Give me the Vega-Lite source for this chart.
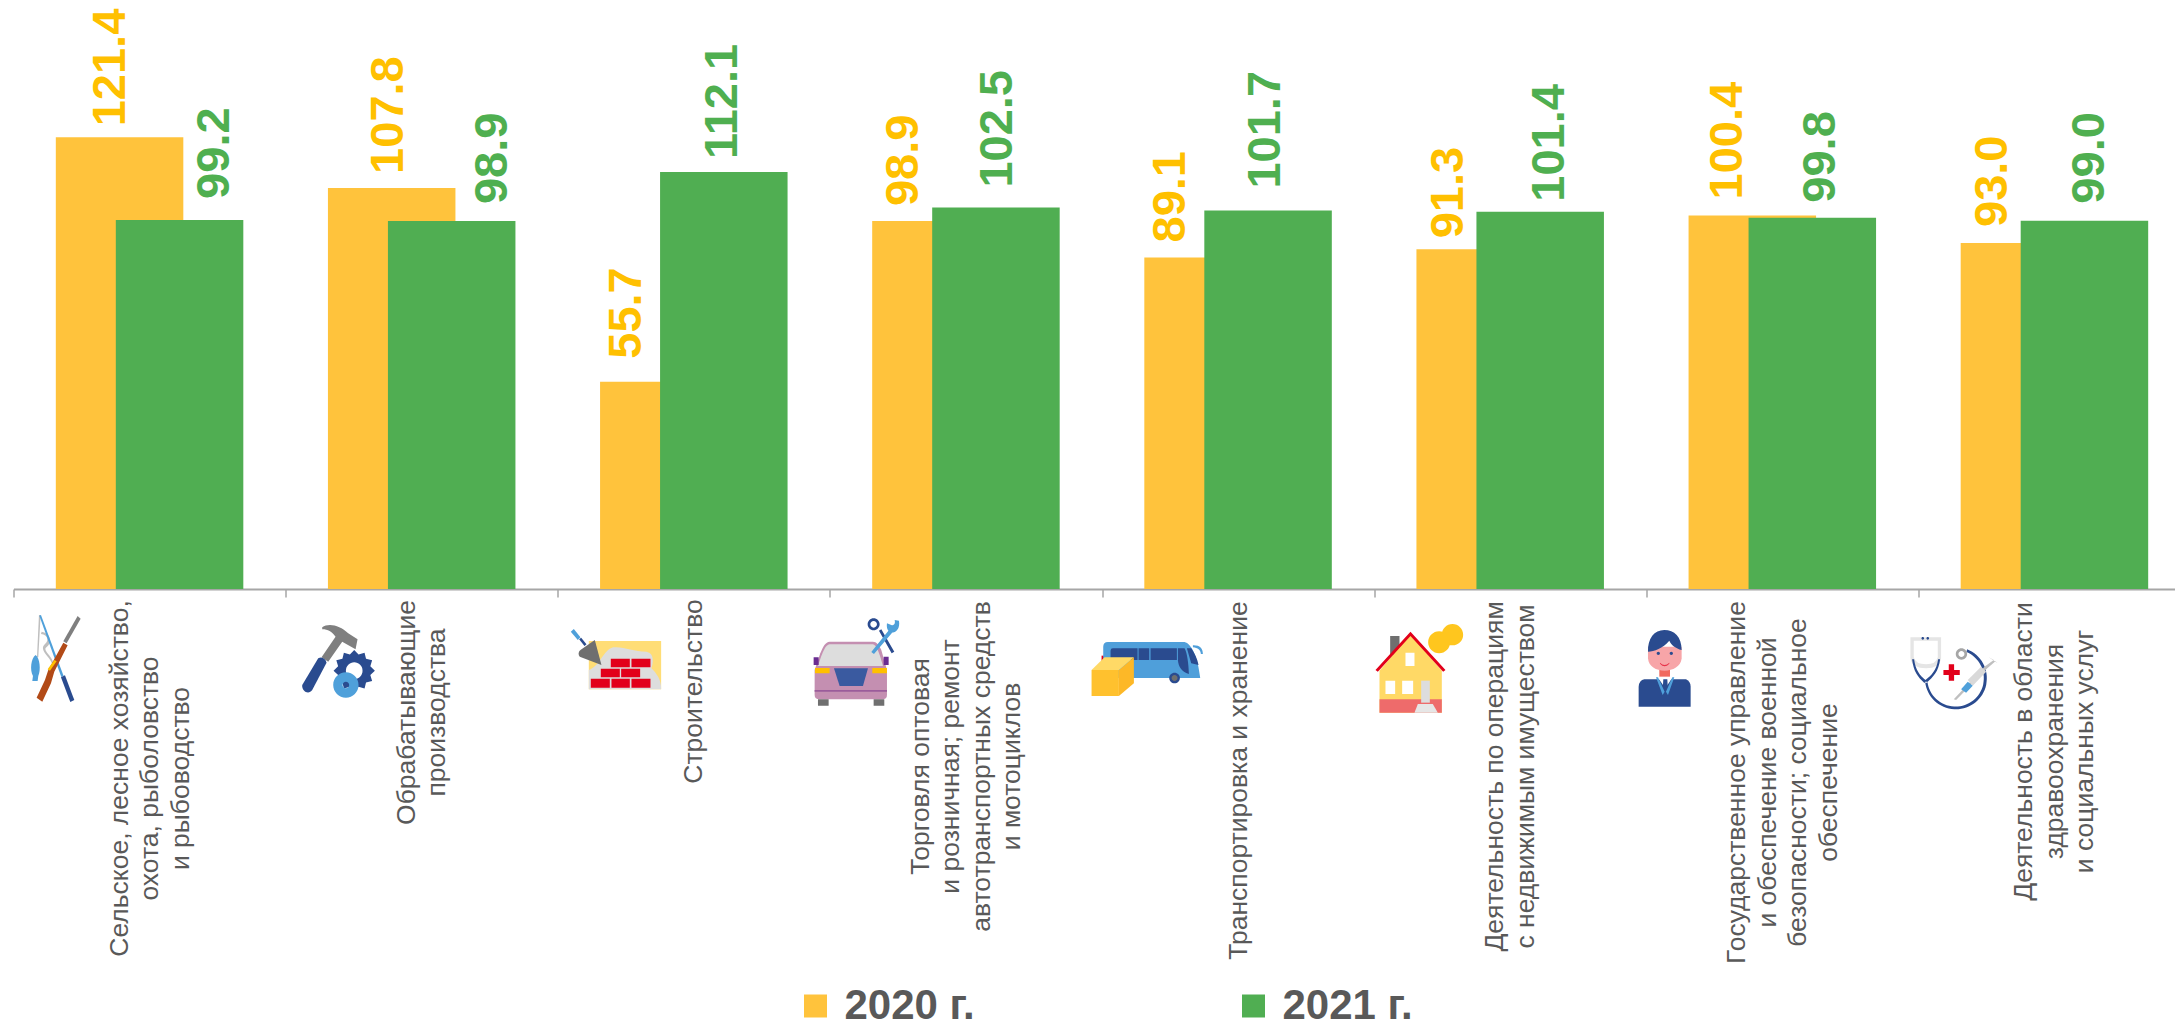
{
"$schema":"https://vega.github.io/schema/vega-lite/v6.json",
"width":2161.5,"height":589,
"autosize":{"type":"none"},
"padding":{"left":13.5,"top":0,"right":0,"bottom":431},
"background":"white",
"config":{"view":{"stroke":null},"font":"Liberation Sans"},
"datasets":{
"table":[
{"n":0,"category":"Сельское, лесное хозяйство,\nохота, рыболовство\nи рыбоводство","year":"2020 г.","value":121.4},
{"n":0,"category":"Сельское, лесное хозяйство,\nохота, рыболовство\nи рыбоводство","year":"2021 г.","value":99.2},
{"n":1,"category":"Обрабатывающие\nпроизводства","year":"2020 г.","value":107.8},
{"n":1,"category":"Обрабатывающие\nпроизводства","year":"2021 г.","value":98.9},
{"n":2,"category":"Строительство","year":"2020 г.","value":55.7},
{"n":2,"category":"Строительство","year":"2021 г.","value":112.1},
{"n":3,"category":"Торговля оптовая\nи розничная; ремонт\nавтотранспортных средств\nи мотоциклов","year":"2020 г.","value":98.9},
{"n":3,"category":"Торговля оптовая\nи розничная; ремонт\nавтотранспортных средств\nи мотоциклов","year":"2021 г.","value":102.5},
{"n":4,"category":"Транспортировка и хранение","year":"2020 г.","value":89.1},
{"n":4,"category":"Транспортировка и хранение","year":"2021 г.","value":101.7},
{"n":5,"category":"Деятельность по операциям\nс недвижимым имуществом","year":"2020 г.","value":91.3},
{"n":5,"category":"Деятельность по операциям\nс недвижимым имуществом","year":"2021 г.","value":101.4},
{"n":6,"category":"Государственное управление\nи обеспечение военной\nбезопасности; социальное\nобеспечение","year":"2020 г.","value":100.4},
{"n":6,"category":"Государственное управление\nи обеспечение военной\nбезопасности; социальное\nобеспечение","year":"2021 г.","value":99.8},
{"n":7,"category":"Деятельность в области\nздравоохранения\nи социальных услуг","year":"2020 г.","value":93.0},
{"n":7,"category":"Деятельность в области\nздравоохранения\nи социальных услуг","year":"2021 г.","value":99.0}
],
"icons":[
{"n":0,"part":"line0"},{"n":0,"part":"rod0"},{"n":0,"part":"reel0"},{"n":0,"part":"fish0"},{"n":0,"part":"barrel0"},{"n":0,"part":"stock0"},{"n":0,"part":"stripe0"},
{"n":1,"part":"head1"},{"n":1,"part":"grip1"},{"n":1,"part":"gear1"},{"n":1,"part":"hole1"},{"n":1,"part":"small1"},
{"n":2,"part":"wall2"},{"n":2,"part":"plaster2"},{"n":2,"part":"bricks2"},{"n":2,"part":"trowel2"},{"n":2,"part":"handle2"},{"n":2,"part":"stem2"},
{"n":3,"part":"body3"},{"n":3,"part":"glass3"},{"n":3,"part":"grille3"},{"n":3,"part":"lights3"},{"n":3,"part":"stripe3"},{"n":3,"part":"mirrors3"},{"n":3,"part":"tires3"},{"n":3,"part":"scissors3"},{"n":3,"part":"wrench3"},
{"n":4,"part":"tail4"},{"n":4,"part":"bus4"},{"n":4,"part":"windows4"},{"n":4,"part":"wheel4"},{"n":4,"part":"hub4"},{"n":4,"part":"boxfront4"},{"n":4,"part":"boxside4"},{"n":4,"part":"boxtop4"},
{"n":5,"part":"chimney5"},{"n":5,"part":"wall5"},{"n":5,"part":"base5"},{"n":5,"part":"roof5"},{"n":5,"part":"door5"},{"n":5,"part":"steps5"},{"n":5,"part":"windows5"},{"n":5,"part":"coins5"},
{"n":6,"part":"suit6"},{"n":6,"part":"shirt6"},{"n":6,"part":"neck6"},{"n":6,"part":"face6"},{"n":6,"part":"hair6"},{"n":6,"part":"lapels6"},{"n":6,"part":"mouth6"},
{"n":7,"part":"band7"},{"n":7,"part":"tube7"},{"n":7,"part":"knob7"},{"n":7,"part":"knobin7"},{"n":7,"part":"cross7"},{"n":7,"part":"needle7"},{"n":7,"part":"barrel7"},{"n":7,"part":"dose7"}
]},
"data":{"name":"table"},
"encoding":{
"x":{"field":"category","type":"nominal","sort":null,"title":null,
 "scale":{"domain":["Сельское, лесное хозяйство,\nохота, рыболовство\nи рыбоводство","Обрабатывающие\nпроизводства","Строительство","Торговля оптовая\nи розничная; ремонт\nавтотранспортных средств\nи мотоциклов","Транспортировка и хранение","Деятельность по операциям\nс недвижимым имуществом","Государственное управление\nи обеспечение военной\nбезопасности; социальное\nобеспечение","Деятельность в области\nздравоохранения\nи социальных услуг"],"range":[0,2177],"paddingInner":0,"paddingOuter":0},
 "axis":{"title":null,"labelAngle":-90,"labelAlign":"center","labelBaseline":"middle","labelPadding":0,"tickSize":8,"tickBand":"extent","domainColor":"#A6A6A6","domainWidth":2,"tickColor":"#A6A6A6","tickWidth":1.5,"labelColor":"#595959","labelFontSize":26.5,"labelLimit":0,"labelFont":"Liberation Sans",
  "labelExpr":"datum.value?split(datum.value,'\\n'):''",
  "labelOverlap":false,"labelBound":false,"labelFlush":false,
  "encoding":{"labels":{"lineHeight":{"value":30.5},
   "dy":{"value":{"expr":"datum.value?-(length(split(datum.value,'\\n'))-1)*15.25:0"}},
   "y":{"value":{"expr":"datum.value?{'Сельское, лесн':189,'Обрабатывающие':123,'Строительство':102,'Торговля оптов':177,'Транспортировк':191,'Деятельность п':187,'Государственно':193,'Деятельность в':162}[slice(datum.value,0,14)]:0"}}}}}},
"y":{"field":"value","type":"quantitative","stack":null,"scale":{"domain":[0,158.3],"nice":false,"zero":true},"axis":null}
},
"layer":[
{"mark":{"type":"bar","width":127.5,"xOffset":{"expr":"datum.year=='2020 г.'?-30:30"}},
 "encoding":{
  "fill":{"field":"year","type":"nominal","scale":{"domain":["2020 г.","2021 г."],"range":["#FFC33C","#50AE52"]},
   "legend":{"orient":"none","legendX":781,"legendY":985,"direction":"horizontal","title":null,"symbolType":"square","symbolSize":529,"labelFontSize":42,"labelFontWeight":"bold","labelColor":"#595959","labelOffset":8,"columnPadding":257,"labelLimit":0}}}},
{"mark":{"type":"text","angle":270,"align":"left","baseline":"middle","fontWeight":"bold","fontSize":47,
  "dx":{"expr":"datum.year=='2020 г.'?[11,14,23,15,15,11,16,16][datum.n]:[21,17,13,20,22,10,15,17][datum.n]"},
  "xOffset":{"expr":"datum.year=='2020 г.'?[-39,-33,-67,-62,-67,-61,-54,-61][datum.n]:[65,71,29,32,28,40,39,36][datum.n]"}},
 "encoding":{"text":{"field":"value","type":"quantitative","format":".1f"},
  "color":{"field":"year","type":"nominal","scale":{"domain":["2020 г.","2021 г."],"range":["#FFC000","#4FAF50"]},"legend":null}}},
{"data":{"name":"icons"},
 "transform":[{"lookup":"n","from":{"data":{"name":"table"},"key":"n","fields":["category"]}}],
 "mark":{"type":"point","filled":true,"opacity":1,"size":0.4444,"strokeWidth":0,
  "xOffset":{"expr":"[-134.6,-136.8,-134,-166.3,-153.5,-145.7,-163,-155][datum.n]"},
  "yOffset":{"expr":"[600,600,600,600,620,610,620,620][datum.n]"}},
 "encoding":{
  "y":{"value":0},
  "shape":{"field":"part","type":"nominal","legend":null,"scale":{
   "domain":["line0","rod0","reel0","fish0","barrel0","stock0","stripe0","head1","grip1","gear1","hole1","small1","wall2","plaster2","bricks2","trowel2","handle2","stem2","body3","glass3","grille3","lights3","stripe3","mirrors3","tires3","scissors3","wrench3","tail4","bus4","windows4","wheel4","hub4","boxfront4","boxside4","boxtop4","chimney5","wall5","base5","roof5","door5","steps5","windows5","coins5","suit6","shirt6","neck6","face6","hair6","lapels6","mouth6","band7","tube7","knob7","knobin7","cross7","needle7","barrel7","dose7"],
   "range":[
   "M72 45L77 45L70 172L66 172ZM80 95C110 100 110 130 96 140C80 150 110 165 116 190L112 192C105 170 70 150 90 132C102 122 100 105 78 102Z",
   "M73 47L78 45L146 228L139 231Z",
   "M138 232L150 226L178 300L166 306Z",
   "M62 165C75 175 78 210 70 228L68 243L52 243L54 228C44 210 48 175 62 165Z",
   "M188 48L197 56L155 130L145 124Z",
   "M145 128L158 136L118 215L108 250L82 305L65 293L90 240L100 210Z",
   "M118 180L125 184L105 212L98 208Z",
   "M112 82C130 68 165 75 190 100L218 118L212 148L180 130L172 125L130 185L110 172L152 110C140 95 130 88 112 88Z",
   "M100 175C110 168 122 175 125 188L82 270C72 285 50 275 52 255Z",
   "M270 212L256.3 224.9L261.7 243L243.4 247.4L239 265.7L221 260.3L208 274L195 260.3L177 265.7L172.6 247.4L154.3 243L159.7 224.9L146 212L159.7 199.1L154.3 181L172.6 176.6L177 158.3L195 163.7L208 150L221 163.7L239 158.3L243.4 176.6L261.7 181L256.3 199.1Z",
   "M233 212A25 25 0 1 0 183 212A25 25 0 1 0 233 212Z",
   "M221 255A38 38 0 1 0 145 255A38 38 0 1 0 221 255ZM193 255A10 10 0 1 1 173 255A10 10 0 1 1 193 255Z",
   "M87 123H304V268H87Z",
   "M87 268L87 210C120 200 130 150 160 142C190 138 220 155 260 155C285 160 280 190 275 205C290 220 305 240 304 268Z",
   "M153 176H210V202H153ZM215 176H272V202H215ZM123 206H180V232H123ZM184 206H241V232H184ZM93 236H150V263H93ZM155 236H210V263H155ZM215 236H272V263H215Z",
   "M105 120L125 195L60 170C55 165 55 155 62 150Z",
   "M33 95L42 87L62 112L54 120Z",
   "M58 118L64 113L80 133L74 138Z",
   "M90 125H220C230 125 238 135 245 150L262 210V285Q262 298 248 298H60Q45 298 45 285V210L62 160C70 140 78 125 90 125Z",
   "M92 133H218C228 133 235 145 250 198H55C72 145 80 133 92 133Z",
   "M103 205H205L190 258H120Z",
   "M46 204H90V220H46ZM218 204H262V220H218Z",
   "M45 270H262V275H45Z",
   "M42 172H57V195H42ZM252 170H267V195H252Z",
   "M55 298H87V317H55ZM222 298H254V317H222Z",
   "M238 92L245 88L284 155L276 160ZM240 73A18 18 0 1 0 204 73A18 18 0 1 0 240 73ZM232 73A10 10 0 1 1 212 73A10 10 0 1 1 232 73Z",
   "M270 88L280 95L223 162L215 156ZM262 70L275 75C283 78 288 70 285 60L298 62C302 85 290 98 275 98C265 95 260 85 262 70Z",
   "M51 107H58V125H51Z",
   "M70 66H300C320 70 340 110 347 174H70Q56 174 56 160V80Q56 66 70 66ZM325 76C345 75 355 85 355 102L349 102C348 90 340 84 325 82Z",
   "M85 85H159V120H78V92Q78 85 85 85ZM162 85H194V120H162ZM198 85H277V120H198ZM280 85H300C308 100 312 130 313 162C290 155 282 140 280 120ZM307 85H320C330 100 338 115 342 135L320 130Z",
   "M286 174A16 16 0 1 0 254 174A16 16 0 1 0 286 174Z",
   "M279 174A9 9 0 1 0 261 174A9 9 0 1 0 279 174Z",
   "M21 150H103V228H21Z",
   "M103 150L148 112V190L103 228Z",
   "M21 150L60 112H148L103 150Z",
   "M77 78H105V135H77Z",
   "M45 182L138 72L232 182V308H45Z",
   "M45 268H232V308H45Z",
   "M33 180L138 65L243 180L236 185L138 78L40 185Z",
   "M170 212H196V278H170Z",
   "M160 282H205L220 308H150Z",
   "M123 128H150V168H123ZM63 212H92V252H63ZM113 212H146V252H113Z",
   "M296 74A32 32 0 1 0 232 74A32 32 0 1 0 296 74ZM257 97A33 33 0 1 0 191 97A33 33 0 1 0 257 97Z",
   "M75 178H200Q214 185 214 200V260H58V200Q60 180 75 178Z",
   "M115 172H160L138 205Z",
   "M120 150H152V170H120Z",
   "M86 80H187V115C185 140 160 152 136 152C110 152 88 140 86 115Z",
   "M135 30C165 30 187 50 187 90C170 85 155 75 150 62C130 85 105 95 86 95C85 55 105 30 135 30ZM122 100A5 5 0 1 0 112 100A5 5 0 1 0 122 100ZM161 100A5 5 0 1 0 151 100A5 5 0 1 0 161 100ZM132 178H144L146 212H130Z",
   "M110 172L116 172L136 215L130 225ZM165 172L159 172L140 215L146 225Z",
   "M122 128Q136 142 150 128L150 131Q136 146 122 131Z",
   "M33 52H125V115Q120 145 80 145Q38 145 33 115ZM43 62V112Q48 133 80 133Q110 133 115 112V62Z",
   "M38 118L44 118C48 150 62 168 78 180C95 168 112 150 116 118L122 118C118 155 100 172 82 188L74 188C56 172 42 155 38 118ZM77 185A93 93 0 1 0 203 88L201 96A85 85 0 1 1 84 185ZM74 55A4 4 0 1 0 66 55A4 4 0 1 0 74 55ZM89 55A4 4 0 1 0 81 55A4 4 0 1 0 89 55Z",
   "M203 102A17 17 0 1 0 169 102A17 17 0 1 0 203 102Z",
   "M195 102A9 9 0 1 0 177 102A9 9 0 1 0 195 102Z",
   "M148 133H164V150H181V165H164V182H148V165H132V150H148Z",
   "M163 238L255 140L283 120L268 112L295 130L288 124L262 146L170 240Z",
   "M205 180L245 140L260 155L220 197Z",
   "M185 208L205 185L220 197L200 218Z"
   ]}},
  "color":{"field":"part","type":"nominal","legend":null,"scale":{
   "domain":["line0","rod0","reel0","fish0","barrel0","stock0","stripe0","head1","grip1","gear1","hole1","small1","wall2","plaster2","bricks2","trowel2","handle2","stem2","body3","glass3","grille3","lights3","stripe3","mirrors3","tires3","scissors3","wrench3","tail4","bus4","windows4","wheel4","hub4","boxfront4","boxside4","boxtop4","chimney5","wall5","base5","roof5","door5","steps5","windows5","coins5","suit6","shirt6","neck6","face6","hair6","lapels6","mouth6","band7","tube7","knob7","knobin7","cross7","needle7","barrel7","dose7"],
   "range":["#BFBFBF","#4FA0DA","#2A4B8F","#4FA0DA","#7F7F7F","#B24A17","#FFC000","#7F7F7F","#2A4B8F","#2A4B8F","#FFFFFF","#4FA0DA","#FFDD76","#DDDDDD","#E2001A","#6F6F6F","#4FA0DA","#2A4B8F","#C48FB1","#DDDDDD","#3A5AA0","#FFC000","#9B5C9B","#6A2C91","#6F6F6F","#2A4B8F","#4FA0DA","#E2001A","#4F9FDA","#2A4B8F","#2A4B8F","#6F6F6F","#FFC12E","#FDB827","#FFD966","#6F6F6F","#FFD966","#EE6B6B","#E2001A","#DDDDDD","#E6E6E6","#FFFFFF","#FFC61E","#2A4B8F","#FFFFFF","#F16A5F","#F7A5A8","#2A4B8F","#4F9FDA","#E8334A","#E5E5E5","#2A4B8F","#A6A6A6","#FFFFFF","#E2001A","#BFBFBF","#D9D9D9","#4FA0DA"]}}
 }}
],
"resolve":{"scale":{"color":"independent","fill":"independent","shape":"independent"}}
}
